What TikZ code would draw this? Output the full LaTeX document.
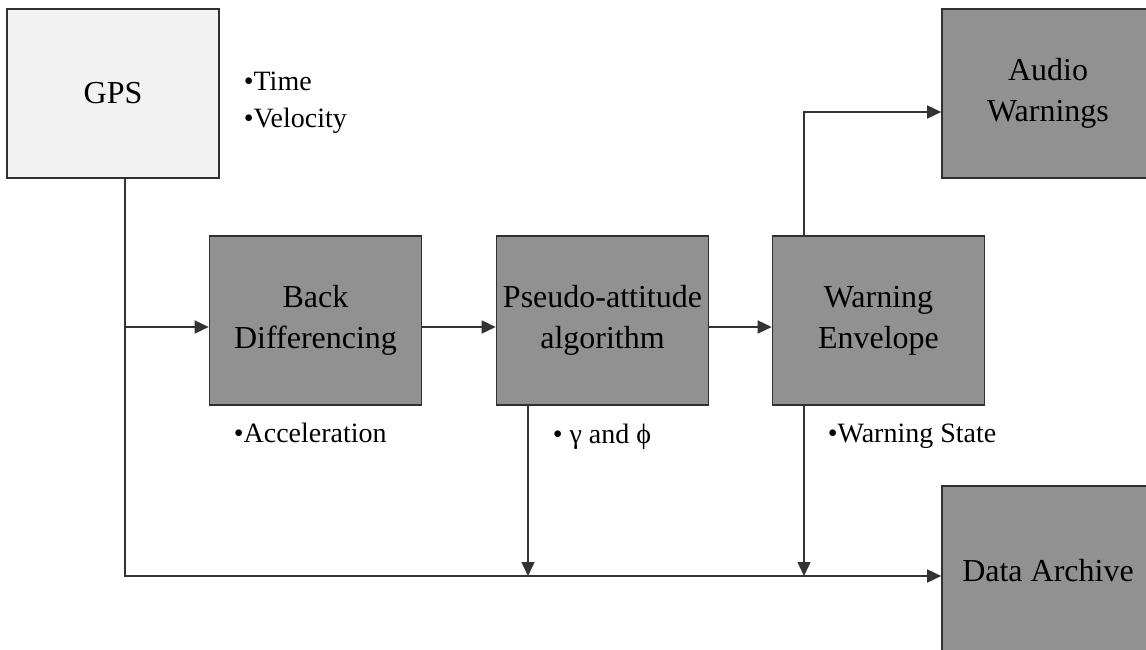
\documentclass[tikz,border=0pt]{standalone}
\usepackage{fontspec}
\setmainfont{Liberation Serif}
\usetikzlibrary{arrows.meta}
\definecolor{gpsfill}{HTML}{F2F2F2}
\definecolor{boxfill}{HTML}{919191}
\definecolor{edgegray}{HTML}{303030}

\begin{document}
\begin{tikzpicture}[x=0.5pt, y=-0.5pt, thick, >={Triangle[length=7pt,width=6.5pt]},
  main box/.style={rectangle, draw=edgegray, line width=0.8pt, fill=boxfill, minimum width=106pt, minimum height=84.5pt, inner sep=0pt, align=center, font=\fontsize{16}{20.5}\selectfont},
  note/.style={anchor=base west, inner sep=0pt, font=\fontsize{14}{18}\selectfont},
  flow/.style={draw=black!80, line width=0.75pt}]
  \useasboundingbox[fill=white] (0,0) rectangle (1146,649);

  \node[main box, fill=gpsfill] (gps) at (113,93.5) {GPS};
  \node[main box] (back) at (315.5,320.5) {Back\\Differencing};
  \node[main box] (pseudo) at (602.5,320.5) {Pseudo-attitude\\algorithm};
  \node[main box] (warning) at (878.5,320.5) {Warning\\Envelope};
  \node[main box] (audio) at (1048,93.5) {Audio\\Warnings};
  \node[main box] (archive) at (1048,570.5) {Data Archive};

  \node[note] (time) at (243,90) {•Time};
  \node[note] (velocity) at (243,127) {•Velocity};
  \node[note] (accel) at (233,442) {•Acceleration};
  \node[note] (angles) at (552,443) {• γ and ϕ};
  \node[note] (state) at (827,442) {•Warning State};

  \coordinate (split) at (125,327);
  \coordinate (bus) at (125,576);
  \coordinate (tapa) at (528,576);
  \coordinate (tapb) at (804,576);
  \coordinate (up) at (804,112);

  \draw[flow,->] (split |- gps.south) -- (bus) -- (bus -| archive.west);
  \draw[flow,->] (split) -- (split -| back.west);
  \draw[flow,->] (back.east |- split) -- (pseudo.west |- split);
  \draw[flow,->] (pseudo.east |- split) -- (warning.west |- split);
  \draw[flow,->] (up |- warning.north) -- (up) -- (up -| audio.west);
  \draw[flow,->] (tapa |- pseudo.south) -- (tapa);
  \draw[flow,->] (tapb |- warning.south) -- (tapb);
\end{tikzpicture}
\end{document}
